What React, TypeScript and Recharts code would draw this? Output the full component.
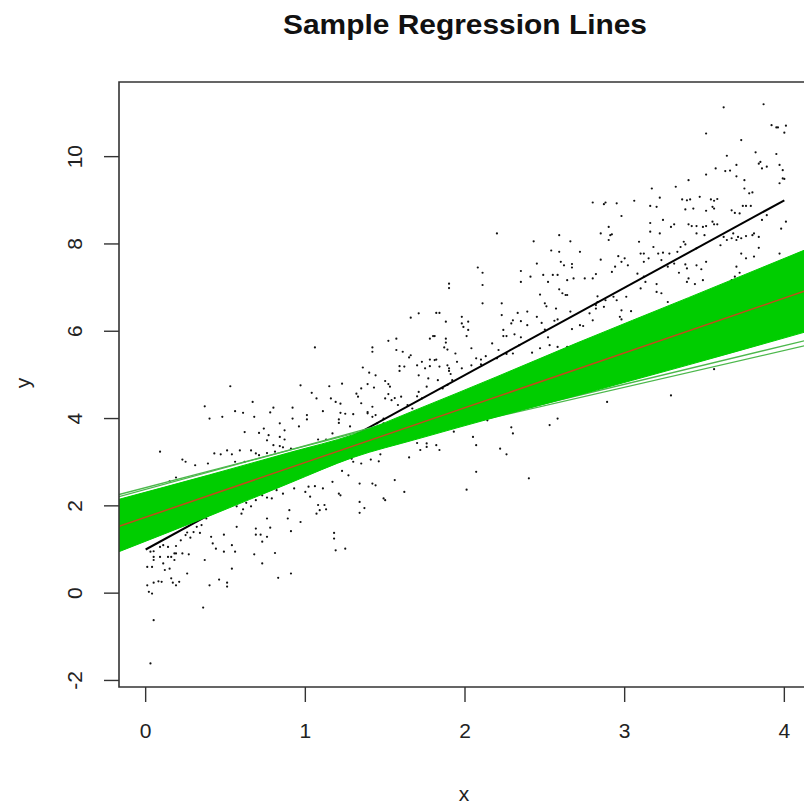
import React from 'react';
import { ComposedChart, XAxis, YAxis, Scatter, Line, Area, ReferenceArea } from 'recharts';

const FONT = "'Liberation Sans', Arial, Helvetica, sans-serif";

const X_DOMAIN: [number, number] = [-0.167, 4.167];
const Y_DOMAIN: [number, number] = [-2.15, 11.71];
const X_TICKS = [0, 1, 2, 3, 4];
const Y_TICKS = [-2, 0, 2, 4, 6, 8, 10];

const samplePoints: [number, number][] = [
  [0.37,4.28],[0.67,4.38],[0.80,4.25],[0.92,4.25],[0.40,4.00],[0.48,4.04],[0.56,4.17],[0.61,4.13],[0.68,4.04],[0.78,4.14],
  [0.84,3.89],[0.92,4.00],[1.01,4.08],[1.01,3.98],[1.11,4.17],[1.19,4.38],[1.22,4.34],[1.22,4.13],[1.25,4.11],[1.30,4.10],
  [1.21,3.98],[1.21,3.90],[1.28,3.82],[1.17,3.66],[1.08,3.52],[1.13,3.52],[0.74,3.77],[0.62,3.69],[0.71,3.67],[0.77,3.62],
  [0.76,3.50],[0.80,3.39],[0.84,3.58],[0.87,3.52],[0.86,3.34],[0.91,3.31],[0.96,3.82],[0.87,3.73],[0.09,3.24],[0.23,3.06],
  [0.25,3.01],[0.15,2.56],[0.19,2.65],[0.31,2.93],[0.39,2.97],[0.43,3.20],[0.47,3.18],[0.51,3.27],[0.54,3.18],[0.56,3.01],
  [0.59,3.27],[0.62,3.01],[0.66,3.27],[0.69,3.20],[0.71,3.16],[0.76,3.21],[0.81,3.24],[0.84,3.37],[0.56,2.82],[0.62,2.89],
  [0.03,0.95],[0.05,0.96],[0.09,1.06],[0.11,1.10],[0.14,1.06],[0.19,1.08],[0.01,0.60],[0.04,0.60],[0.05,0.76],[0.05,0.83],
  [0.09,0.83],[0.11,0.68],[0.12,0.53],[0.14,0.83],[0.16,0.83],[0.18,0.91],[0.19,0.91],[0.18,0.76],[0.23,0.91],[0.27,0.89],
  [0.26,0.45],[0.15,0.56],[0.16,0.34],[0.17,0.24],[0.19,0.18],[0.21,0.26],[0.05,0.24],[0.08,0.27],[0.10,0.26],[0.01,0.18],
  [0.02,0.03],[0.04,-0.01],[0.05,-0.62],[0.03,-1.61],[0.36,-0.33],[0.37,0.76],[0.40,0.18],[0.46,0.31],[0.51,0.24],[0.51,0.15],
  [0.26,1.39],[0.28,1.27],[0.32,1.52],[0.34,1.38],[0.42,1.14],[0.44,1.02],[0.41,1.29],[0.49,1.34],[0.49,0.95],[0.54,1.10],
  [0.54,0.56],[0.56,0.95],[0.57,1.52],[0.61,1.92],[0.60,1.82],[0.57,1.99],[0.66,1.99],[0.68,0.89],[0.69,1.48],[0.69,1.34],
  [0.72,1.34],[0.73,1.18],[0.73,0.68],[0.76,1.71],[0.76,1.29],[0.78,1.50],[0.81,0.92],[0.83,0.35],[0.76,2.19],[0.79,2.17],
  [0.82,2.36],[0.86,2.28],[0.89,1.71],[0.90,1.90],[0.91,1.42],[0.91,0.45],[0.93,2.40],[0.97,1.63],[1.00,2.32],[1.02,2.44],
  [1.03,2.21],[1.06,2.45],[1.07,1.82],[1.08,2.02],[1.09,1.90],[1.11,2.40],[1.12,2.02],[1.13,1.92],[1.17,2.55],[1.18,1.38],
  [1.18,1.25],[1.19,0.98],[1.21,2.28],[1.22,2.24],[1.23,2.80],[1.25,1.02],[1.27,2.70],[1.29,3.08],[1.30,3.01],[1.34,2.09],
  [1.34,1.84],[0.63,2.07],[0.64,2.21],[0.69,2.13],[0.73,2.24],[0.75,2.32],[0.70,2.42],[0.38,1.71],[0.35,1.56],[0.30,1.40],
  [0.25,1.33],[0.22,1.21],[0.53,4.74],
  [2.11,7.34],[2.08,7.46],[1.90,7.09],[1.90,6.99],[2.11,7.06],[2.11,6.64],[2.23,6.64],[2.35,7.38],[2.35,7.13],[2.41,7.25],
  [2.45,7.55],[2.49,7.29],[2.52,7.13],[2.55,7.29],[2.58,7.29],[2.59,7.82],[2.47,6.84],[2.50,6.64],[2.51,6.57],[2.57,6.52],
  [2.59,6.96],[2.33,6.42],[2.39,6.45],[2.35,6.23],[2.30,6.25],[2.29,6.18],[2.23,6.37],[2.39,6.14],[2.45,6.33],[2.48,6.19],
  [2.50,6.04],[2.52,5.86],[2.56,6.24],[2.58,6.27],[2.24,6.03],[2.26,5.89],[2.24,5.89],[2.31,5.93],[2.35,5.86],[2.53,5.68],
  [2.58,5.64],[2.47,5.61],[2.42,5.51],[2.34,5.68],[2.30,5.49],[2.26,5.48],[2.21,5.57],[2.17,5.72],[2.13,5.43],[2.20,5.38],
  [2.10,5.24],[2.10,5.35],[2.02,6.22],[2.02,6.03],[1.98,6.18],[1.99,6.10],[1.98,6.33],[2.01,5.89],[2.04,5.61],[2.04,5.22],
  [2.07,5.38],[1.94,5.49],[1.95,5.30],[1.98,5.15],[1.82,6.42],[1.84,6.42],[1.88,6.22],[1.88,5.74],[1.88,5.83],[1.89,5.58],
  [1.87,5.63],[1.80,5.89],[1.81,5.89],[1.78,5.83],[1.71,6.41],[1.66,6.31],[1.73,5.30],[1.78,5.35],[1.78,5.20],[1.81,5.34],
  [1.82,5.35],[1.84,5.19],[1.90,5.15],[1.90,5.09],[1.91,5.02],[1.92,4.88],[1.89,4.77],[1.86,4.69],[1.83,4.88],[1.77,4.92],
  [1.75,5.15],[1.70,5.22],[1.71,4.99],[1.66,5.45],[1.62,5.19],[1.59,5.20],[1.59,5.09],[1.65,5.40],[1.61,5.53],[1.57,5.57],
  [1.52,5.78],[1.57,5.83],[1.42,5.63],[1.42,5.53],[1.36,5.17],[1.40,5.05],[1.44,4.99],[1.52,4.79],[1.53,4.73],[1.56,4.47],
  [1.50,4.86],[1.43,4.71],[1.39,4.79],[1.35,4.69],[1.32,4.57],[1.33,4.50],[1.23,4.80],[1.15,4.74],[1.06,5.63],[1.04,4.59],
  [0.97,4.76],[1.07,4.46],[1.16,4.46],[1.35,4.35],[1.39,4.15],[1.39,4.12],[1.42,4.27],[1.42,4.04],[1.44,4.08],[1.45,3.89],
  [1.49,4.00],[1.49,3.89],[1.50,4.46],[1.52,4.56],[1.54,4.42],[1.58,4.31],[1.60,4.50],[1.64,4.31],[1.67,4.23],[1.69,4.15],
  [1.71,4.61],[1.70,4.51],[1.73,4.46],[1.76,4.73],[1.89,5.22],
  [1.35,2.97],[1.41,3.06],[1.42,2.51],[1.44,2.47],[1.46,3.02],[1.47,3.18],[1.34,2.51],[1.49,2.17],[1.56,2.59],[1.62,2.32],
  [1.65,3.11],[1.70,3.44],[1.72,3.28],[1.76,3.35],[1.76,3.43],[1.82,3.39],[1.84,3.28],[1.93,3.70],[2.01,2.37],[2.05,3.58],
  [2.07,3.39],[2.07,2.78],[2.14,3.96],[2.22,3.31],[2.26,3.18],[2.29,3.80],[2.30,3.66],[2.40,2.63],[2.53,3.85],[2.58,4.00],
  [1.50,2.13],[1.37,1.95],
  [3.62,11.13],[3.87,11.20],[3.51,10.53],[3.92,10.72],[3.95,10.67],[3.96,10.67],[4.01,10.71],[4.00,10.55],[3.73,10.38],[3.64,10.02],
  [3.82,10.10],[3.95,10.06],[3.85,9.88],[3.84,9.84],[3.86,9.73],[3.89,9.77],[3.97,9.81],[3.99,9.69],[3.99,9.50],[4.00,9.49],
  [3.97,9.39],[3.57,9.73],[3.63,9.67],[3.66,9.68],[3.70,9.55],[3.70,9.81],[3.51,9.59],[3.75,9.46],[3.40,9.46],[3.32,9.31],
  [3.17,9.27],[3.22,9.06],[3.06,8.99],[2.95,8.93],[2.88,8.95],[2.87,8.91],[2.80,8.95],[2.98,8.64],[2.85,8.24],[2.92,8.22],
  [2.91,8.20],[2.90,8.39],[3.16,8.87],[3.20,8.85],[3.36,9.02],[3.39,9.00],[3.41,9.02],[3.47,9.08],[3.54,9.02],[3.56,8.99],
  [3.58,9.03],[3.38,8.79],[3.43,8.81],[3.51,8.76],[3.55,8.85],[3.56,8.81],[3.75,9.27],[3.78,9.16],[3.80,9.18],[3.67,8.77],
  [3.72,8.70],[3.74,8.87],[3.76,8.87],[3.79,8.87],[3.69,8.71],[3.86,8.55],[3.89,8.66],[3.98,8.35],[4.01,8.51],[3.16,8.48],
  [3.16,8.28],[3.22,8.24],[3.24,8.55],[3.29,8.39],[3.31,8.45],[3.40,8.45],[3.42,8.41],[3.45,8.41],[3.45,8.24],[3.49,8.39],
  [3.51,8.41],[3.55,8.51],[3.56,8.45],[3.58,8.45],[3.50,8.20],[3.37,8.05],[3.38,7.99],[3.33,7.82],[3.35,7.93],[3.68,8.24],
  [3.71,8.16],[3.76,8.18],[3.80,8.20],[3.81,8.24],[3.84,8.16],[3.73,8.13],[3.70,8.09],[3.67,8.13],[3.64,8.09],[3.62,8.16],
  [3.60,7.97],[3.84,7.91],[3.73,7.78],[3.76,7.67],[3.81,7.71],[3.97,7.78],[3.45,7.90],[3.31,7.55],[3.28,7.78],[3.24,7.80],
  [3.21,7.78],[3.18,7.93],[3.09,8.05],[3.10,7.78],[3.12,7.78],[3.12,7.59],[3.15,7.67],[3.23,7.63],[3.27,7.48],[3.38,7.53],
  [3.39,7.44],[3.45,7.51],[3.48,7.42],[3.49,7.17],[3.51,7.59],[3.67,7.17],[3.69,7.25],[3.70,7.48],[3.72,7.34],[3.00,7.67],
  [3.02,7.51],[2.96,7.72],[2.98,7.59],[2.94,7.48],[2.92,7.36],[2.85,7.64],[2.90,8.09],[2.82,7.31],[2.80,7.21],[2.75,7.21],
  [2.72,7.82],[2.66,8.06],[2.67,7.54],[2.67,7.46],[2.62,7.51],[2.64,7.17],[2.61,6.87],[2.63,6.83],[2.64,6.83],[2.60,7.59],
  [2.66,6.45],[2.72,6.14],[2.74,6.12],[2.80,6.25],[2.78,6.41],[2.67,6.05],[2.64,5.64],[2.93,6.79],[2.95,6.71],[2.98,6.48],
  [2.97,6.33],[2.98,6.27],[3.04,6.46],[3.01,6.79],[2.83,6.80],[2.83,6.67],[2.82,6.60],[2.82,6.52],[2.88,6.71],[2.87,6.56],
  [3.10,6.98],[3.13,7.13],[3.12,7.25],[3.08,7.32],[3.20,6.90],[3.23,6.87],[3.20,7.08],[3.27,6.67],[3.34,7.34],[3.39,7.13],
  [3.40,7.21],[3.44,7.08],[3.58,6.77],[3.67,7.08],[3.49,6.80],[2.68,7.21],
  [2.20,8.24],[2.43,8.06],[2.59,8.20],[2.54,7.85],
  [2.89,4.38],[3.29,4.53],[3.56,5.13],
];

// true line y = 1 + 2x, drawn over the data range
const trueLine = [{ x: 0, y: 1 }, { x: 4, y: 9 }];
// red fitted line
const fitLine = [{ x: -0.167, y: 1.53 }, { x: 4.167, y: 6.97 }];

// envelope of the many green sample regression lines
const bandX = [-0.167, 0.4, 0.9, 1.3, 1.7, 2.2, 2.7, 3.4, 4.167];
const bandLow = [0.95, 1.77, 2.52, 3.11, 3.53, 4.04, 4.53, 5.23, 6.02];
const bandHigh = [2.15, 2.71, 3.22, 3.63, 4.21, 4.96, 5.73, 6.77, 7.92];

// a few sample lines that stick out of the band
const strayStart = [2.26, 2.21, 2.05, 1.98];
const strayEnd = [6.38, 6.55, 5.70, 5.82];

const points = samplePoints.map(([x, y]) => ({ x, y }));
const band = bandX.map((x, i) => ({ x, range: [bandLow[i], bandHigh[i]] }));
const strays = strayStart.map((s, i) => [
  { x: X_DOMAIN[0], y: s },
  { x: X_DOMAIN[1], y: strayEnd[i] },
]);

const XTick = (props: any) => {
  const { x, y, payload } = props;
  return (
    <text x={x} y={y} dy={34} textAnchor="middle" fontSize={21} fill="#222" fontFamily={FONT}>
      {payload.value}
    </text>
  );
};

const YTick = (props: any) => {
  const { x, y, payload } = props;
  const bx = x - 20;
  return (
    <text
      x={bx}
      y={y}
      transform={`rotate(-90 ${bx} ${y})`}
      textAnchor="middle"
      fontSize={21}
      fill="#222"
      fontFamily={FONT}
    >
      {payload.value}
    </text>
  );
};

const Dot = (props: any) => <circle cx={props.cx} cy={props.cy} r={1.1} fill="#111" />;

export default function App() {
  return (
    <div
      style={{
        position: 'absolute',
        left: 0,
        top: 0,
        width: 804,
        height: 805,
        overflow: 'hidden',
        background: '#fff',
      }}
    >
      <ComposedChart width={812} height={805} margin={{ top: 82, right: 1, bottom: 0, left: 0 }}>
        <XAxis
          type="number"
          dataKey="x"
          domain={X_DOMAIN}
          ticks={X_TICKS}
          allowDataOverflow
          interval={0}
          axisLine={false}
          tickSize={15}
          tickMargin={2}
          tickLine={{ stroke: '#333', strokeWidth: 1.4 }}
          height={118}
          tick={XTick}
        />
        <YAxis
          type="number"
          domain={Y_DOMAIN}
          ticks={Y_TICKS}
          allowDataOverflow
          interval={0}
          axisLine={false}
          tickSize={15}
          tickMargin={2}
          tickLine={{ stroke: '#333', strokeWidth: 1.4 }}
          width={119}
          tick={YTick}
        />
        <Scatter
          data={points}
          dataKey="y"
          shape={Dot}
          isAnimationActive={false}
          zIndex={10}
        />
        <Line
          data={trueLine}
          dataKey="y"
          type="linear"
          stroke="#000"
          strokeWidth={2}
          dot={false}
          isAnimationActive={false}
          zIndex={20}
        />
        {strays.map((d, i) => (
          <Line
            key={i}
            data={d}
            dataKey="y"
            type="linear"
            stroke="#4cb84c"
            strokeWidth={1.3}
            dot={false}
            isAnimationActive={false}
            zIndex={25}
          />
        ))}
        <Area
          data={band}
          dataKey="range"
          type="monotone"
          fill="#00cd00"
          fillOpacity={1}
          stroke="#00cd00"
          strokeWidth={1}
          dot={false}
          activeDot={false}
          isAnimationActive={false}
          zIndex={30}
        />
        <Line
          data={fitLine}
          dataKey="y"
          type="linear"
          stroke="#c04a1c"
          strokeWidth={1.5}
          dot={false}
          isAnimationActive={false}
          zIndex={40}
        />
        <ReferenceArea
          x1={X_DOMAIN[0]}
          x2={X_DOMAIN[1]}
          y1={Y_DOMAIN[0]}
          y2={Y_DOMAIN[1]}
          fill="none"
          fillOpacity={0}
          stroke="#333"
          strokeWidth={1.6}
          ifOverflow="visible"
          zIndex={50}
        />
      </ComposedChart>
      <svg
        width={804}
        height={805}
        style={{ position: 'absolute', left: 0, top: 0, pointerEvents: 'none' }}
      >
        <text
          x={465}
          y={34}
          textAnchor="middle"
          fontSize={28}
          fontWeight="bold"
          fill="#111"
          fontFamily={FONT}
          textLength={364}
          lengthAdjust="spacingAndGlyphs"
        >
          Sample Regression Lines
        </text>
        <text x={464} y={801} textAnchor="middle" fontSize={21} fill="#222" fontFamily={FONT}>
          x
        </text>
        <text
          x={30}
          y={383}
          transform="rotate(-90 30 383)"
          textAnchor="middle"
          fontSize={21}
          fill="#222"
          fontFamily={FONT}
        >
          y
        </text>
      </svg>
    </div>
  );
}
